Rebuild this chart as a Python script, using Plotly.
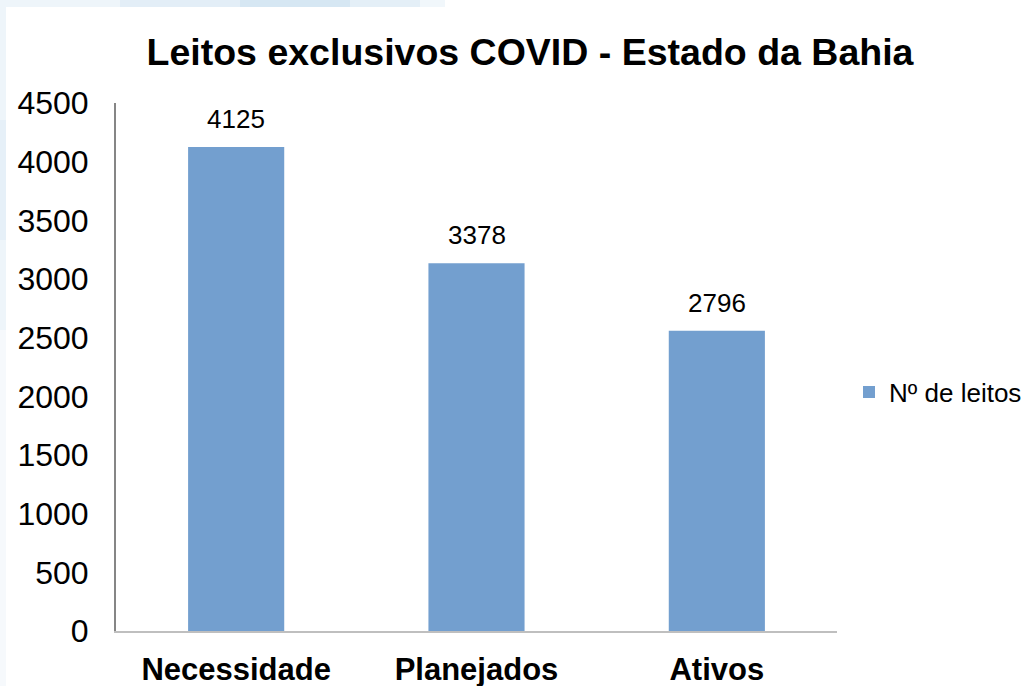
import plotly.graph_objects as go

W, H = 1026, 686

categories = ["Necessidade", "Planejados", "Ativos"]
bar_values = [4125, 3135, 2560]        # bar heights as drawn
label_values = [4125, 3378, 2796]      # data labels as printed
series_name = "Nº de leitos"
y_ticks = [0, 500, 1000, 1500, 2000, 2500, 3000, 3500, 4000, 4500]

FONT = "Liberation Sans, Arial, sans-serif"
BAR_COLOR = "#739fcf"

# plot area in pixels
L, R, T, B = 116, 837, 103, 631

def fx(x):
    return (x - L) / (R - L)

def fy(y):
    return (B - y) / (B - T)

fig = go.Figure()
fig.add_trace(go.Bar(
    x=categories, y=bar_values, name=series_name,
    marker=dict(color=BAR_COLOR, line=dict(width=0)),
    width=0.4, showlegend=True,
))

for c, v, lab in zip(categories, bar_values, label_values):
    fig.add_annotation(x=c, y=v, text=str(lab), showarrow=False,
                       yanchor="bottom", yshift=11,
                       font=dict(family=FONT, size=26, color="#000000"))

# light blue slide background visible at top-left edges
shapes = []
top_strip = [(0, 120, "#eef5fa"), (120, 240, "#e3eef7"), (240, 350, "#d6e7f3"),
             (350, 420, "#e4eff7"), (420, 445, "#f1f7fb")]
for x0, x1, col in top_strip:
    shapes.append(dict(type="rect", xref="paper", yref="paper",
                       x0=fx(x0), x1=fx(x1), y0=fy(7), y1=fy(0),
                       fillcolor=col, line=dict(width=0), layer="below"))
left_strip = [(7, 120, "#eef5fa"), (120, 240, "#e6f0f8"), (240, 330, "#eef5fa"),
              (330, 686, "#f6f9fc")]
for y0, y1, col in left_strip:
    shapes.append(dict(type="rect", xref="paper", yref="paper",
                       x0=fx(0), x1=fx(6), y0=fy(y1), y1=fy(y0),
                       fillcolor=col, line=dict(width=0), layer="below"))

fig.update_layout(
    width=W, height=H,
    paper_bgcolor="#ffffff", plot_bgcolor="#ffffff",
    margin=dict(l=L, r=W - R, t=T, b=H - B, autoexpand=False),
    font=dict(family=FONT, color="#000000"),
    title=dict(text="<b>Leitos exclusivos COVID - Estado da Bahia</b>",
               x=530 / W, xanchor="center", xref="container",
               y=1 - 52 / H, yanchor="middle", yref="container",
               automargin=False,
               font=dict(family=FONT, size=37.5, color="#000000")),
    bargap=0.6,
    shapes=shapes,
    legend=dict(x=fx(849), xanchor="left", y=fy(392), yanchor="middle",
                font=dict(family=FONT, size=26, color="#000000"),
                bgcolor="rgba(0,0,0,0)", itemwidth=30),
    xaxis=dict(showgrid=False, showline=True, linecolor="#bfbfbf", linewidth=2,
               ticks="", tickfont=dict(family=FONT, size=31, color="#000000"),
               ticklabelstandoff=10, tickprefix="<b>", ticksuffix="</b>",
               automargin=False),
    yaxis=dict(range=[0, 4500], tickvals=y_ticks, showgrid=False, zeroline=False,
               showline=True, linecolor="#868686", linewidth=2, ticks="",
               tickfont=dict(family=FONT, size=32, color="#000000"),
               ticklabelstandoff=19, automargin=False),
)

fig.write_html(
    "out.html",
    config={"displayModeBar": False},
    post_script="document.body.style.margin='0';document.body.style.overflow='hidden';",
)
